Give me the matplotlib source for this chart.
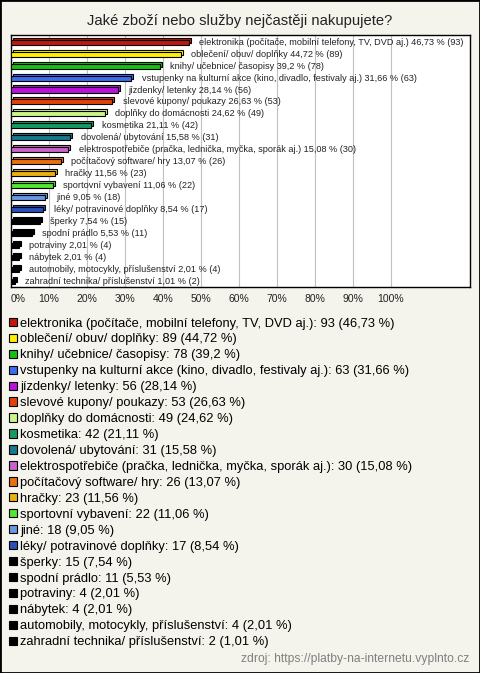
import matplotlib
matplotlib.use("Agg")
import matplotlib.pyplot as plt
import matplotlib.patches as mpatches
import matplotlib.transforms as mtransforms

plt.rcParams['font.family'] = ['Liberation Sans', 'DejaVu Sans']

categories = [
    "elektronika (počítače, mobilní telefony, TV, DVD aj.)",
    "oblečení/ obuv/ doplňky",
    "knihy/ učebnice/ časopisy",
    "vstupenky na kulturní akce (kino, divadlo, festivaly aj.)",
    "jízdenky/ letenky",
    "slevové kupony/ poukazy",
    "doplňky do domácnosti",
    "kosmetika",
    "dovolená/ ubytování",
    "elektrospotřebiče (pračka, lednička, myčka, sporák aj.)",
    "počítačový software/ hry",
    "hračky",
    "sportovní vybavení",
    "jiné",
    "léky/ potravinové doplňky",
    "šperky",
    "spodní prádlo",
    "potraviny",
    "nábytek",
    "automobily, motocykly, příslušenství",
    "zahradní technika/ příslušenství",
]
counts = [93, 89, 78, 63, 56, 53, 49, 42, 31, 30, 26, 23, 22, 18, 17, 15, 11, 4, 4, 4, 2]
percents = [46.73, 44.72, 39.2, 31.66, 28.14, 26.63, 24.62, 21.11, 15.58, 15.08,
            13.07, 11.56, 11.06, 9.05, 8.54, 7.54, 5.53, 2.01, 2.01, 2.01, 1.01]
colors = ["#c0180c", "#ffee00", "#14c014", "#3c6cf0", "#b814d8", "#e4400c",
          "#ccf488", "#149a64", "#18788c", "#c864c8", "#e87010", "#e8b010",
          "#50e830", "#6898e0", "#2850b8", "#000000", "#000000", "#000000",
          "#000000", "#000000", "#000000"]
xticks = [0, 10, 20, 30, 40, 50, 60, 70, 80, 90, 100]

BG = "#f4f3ec"

def fmt(p):
    return f"{p:g}".replace('.', ',')

fig = plt.figure(figsize=(4.8, 6.73), dpi=100, facecolor=BG)
ax = fig.add_axes([11/480, 1 - 286.7/673, 459/480, 251.7/673])
ax.set_facecolor("white")

ypos = list(range(len(categories)))
shadow = ax.transData + mtransforms.ScaledTranslation(2/100, 2/100, fig.dpi_scale_trans)
ax.barh(ypos, percents, height=0.42, color=colors, edgecolor="black", linewidth=0.8,
        transform=shadow, zorder=2)
ax.barh(ypos, percents, height=0.42, color=colors, edgecolor="black", linewidth=0.8,
        zorder=3)

for y, c, p, n in zip(ypos, categories, percents, counts):
    ax.annotate(f"{c} {fmt(p)} % ({n})", (p, y), xytext=(7.5, 0),
                textcoords="offset points", va="center", ha="left",
                fontsize=6.55, color="#222222", zorder=4)

ax.set_xlim(0, 120.8)
ax.set_ylim(len(categories) - 1 + 0.45, -0.6)
ax.set_xticks(xticks)
ax.set_xticklabels([f"{t}%" for t in xticks], fontsize=7.5, color="#222222")
ax.get_xticklabels()[0].set_horizontalalignment("left")
ax.tick_params(axis="x", length=0, pad=5)
ax.set_yticks([])
ax.grid(axis="x", color="#c0c0c0", linewidth=0.8, zorder=0)
ax.set_axisbelow(True)
for s in ax.spines.values():
    s.set_color("black")
    s.set_linewidth(1)

fig.text(0.5, 1 - 21/673, "Jaké zboží nebo služby nejčastěji nakupujete?",
         ha="center", va="center", fontsize=10.65, color="#222222")

handles = [mpatches.Patch(facecolor=col, edgecolor="black", linewidth=0.8) for col in colors]
labels = [f"{c}: {n} ({fmt(p)} %)" for c, n, p in zip(categories, counts, percents)]
fig.legend(handles, labels, loc="upper left", bbox_to_anchor=(9/480, 1 - 317.5/673),
           frameon=False, fontsize=9.3, handlelength=0.62, handleheight=0.62,
           handletextpad=0.25, labelspacing=0.305, borderaxespad=0, borderpad=0)

fig.text(469/480, 1 - 659/673, "zdroj: https://platby-na-internetu.vyplnto.cz",
         ha="right", va="center", fontsize=8.7, color="#808080")

fig.add_artist(mpatches.Rectangle((0, 0), 1, 1, transform=fig.transFigure,
                                  fill=False, edgecolor="black", linewidth=2))

fig.savefig("out.png", dpi=100, facecolor=BG)
